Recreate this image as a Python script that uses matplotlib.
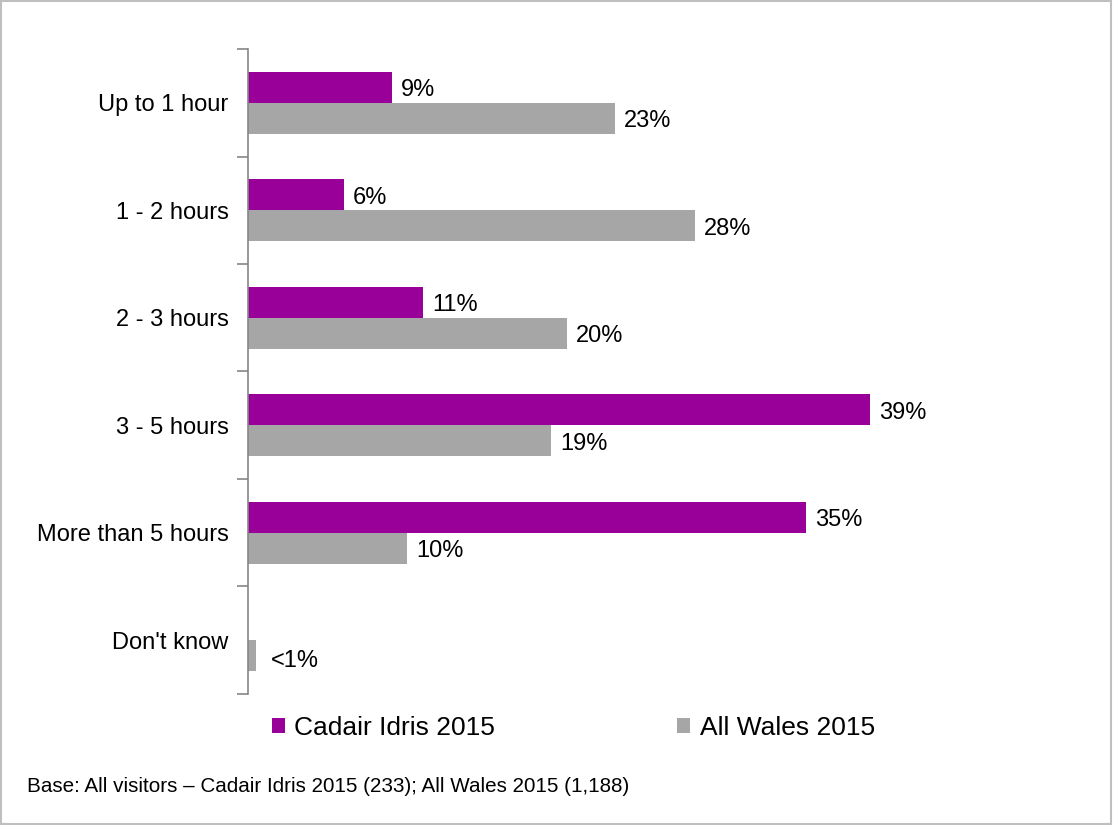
import matplotlib
matplotlib.use("Agg")
import matplotlib.pyplot as plt
from matplotlib.patches import Rectangle, Patch
import numpy as np

plt.rcParams['font.family'] = ['Liberation Sans', 'DejaVu Sans']

categories = ["Up to 1 hour", "1 - 2 hours", "2 - 3 hours", "3 - 5 hours",
              "More than 5 hours", "Don't know"]
cadair = [9, 6, 11, 39, 35, 0]
wales = [23, 28, 20, 19, 10, 0.5]
cadair_labels = ["9%", "6%", "11%", "39%", "35%", ""]
wales_labels = ["23%", "28%", "20%", "19%", "10%", "<1%"]
series_names = ["Cadair Idris 2015", "All Wales 2015"]

purple = "#990099"
grey = "#A6A6A6"
axis_grey = "#868686"

fig = plt.figure(figsize=(11.13, 8.25), dpi=100)
ax = fig.add_axes([0.2228, 0.1588, 0.7166, 0.7818])

y = np.arange(len(categories))
h = 0.288
ax.barh(y - h / 2, cadair, height=h, color=purple, label=series_names[0])
ax.barh(y + h / 2, wales, height=h, color=grey, label=series_names[1])

for yi, v, lab in zip(y, cadair, cadair_labels):
    if lab:
        ax.annotate(lab, (v, yi - h / 2), xytext=(6.5, -2), textcoords="offset points",
                    ha="left", va="center", fontsize=17, color="black")
for yi, v, lab in zip(y, wales, wales_labels):
    if lab:
        dx = 11 if v < 1 else 6.5
        ax.annotate(lab, (v, yi + h / 2), xytext=(dx, -4 if v < 1 else -2),
                    textcoords="offset points",
                    ha="left", va="center", fontsize=17, color="black")

ax.set_xlim(0, 50)
ax.set_ylim(len(categories) - 0.5, -0.5)

for s in ["top", "right", "bottom"]:
    ax.spines[s].set_visible(False)
ax.spines["left"].set_color(axis_grey)
ax.spines["left"].set_linewidth(1.2)

ax.set_xticks([])
ax.set_yticks(y)
ax.set_yticklabels(categories, fontsize=17)
ax.tick_params(axis="y", which="major", length=0, pad=14)
ax.set_yticks(np.arange(len(categories) + 1) - 0.5, minor=True)
ax.tick_params(axis="y", which="minor", length=8, width=1.2, color=axis_grey)

handles = [Patch(facecolor=purple, edgecolor="none"), Patch(facecolor=grey, edgecolor="none")]
fig.legend(handles, series_names, loc="center", bbox_to_anchor=(0.515, 0.118),
           ncol=2, frameon=False, fontsize=19, handlelength=0.5, handleheight=0.5,
           handletextpad=0.35, columnspacing=6.9)

fig.text(27 / 1113, 1 - 787 / 825, "Base: All visitors \u2013 Cadair Idris 2015 (233); All Wales 2015 (1,188)",
         fontsize=14.9, ha="left", va="center")

fig.patches.append(Rectangle((0.001, 0.001), 0.997, 0.998, transform=fig.transFigure,
                             fill=False, edgecolor="#BFBFBF", linewidth=1.5))

fig.savefig("out.png", dpi=100)
